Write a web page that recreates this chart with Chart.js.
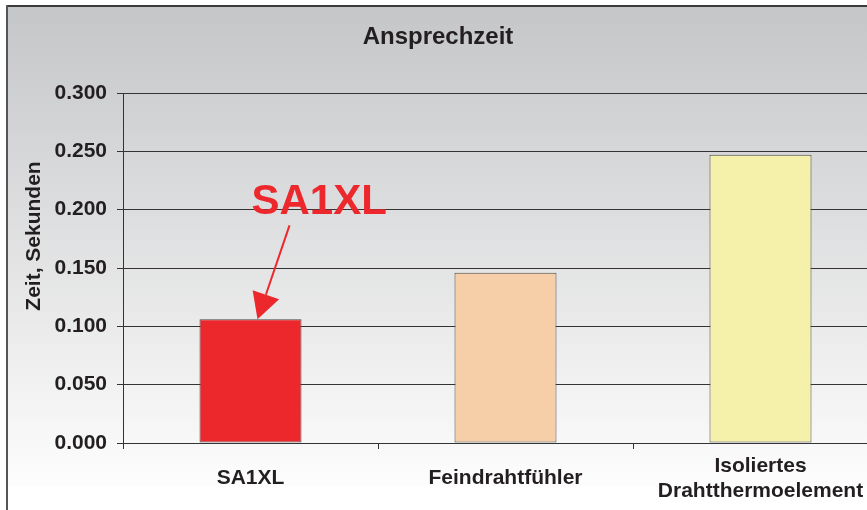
<!DOCTYPE html>
<html>
<head>
<meta charset="utf-8">
<script src="https://cdn.jsdelivr.net/npm/chart.js@4"></script>
<style>
  html, body { margin: 0; padding: 0; overflow: hidden; background: #fff; }
  #wrap { position: relative; width: 900px; height: 510px; }
</style>
</head>
<body>
<div id="wrap"><canvas id="c" width="900" height="510"></canvas></div>
<script>
const chartTitle = 'Ansprechzeit';
const yAxisTitle = 'Zeit, Sekunden';
const categories = ['SA1XL', 'Feindrahtfühler', ['Isoliertes', 'Drahtthermoelement']];
const values = [0.106, 0.146, 0.247];
const barColors = ['#ec282d', '#f6cfa8', '#f6f1aa'];
const yTicks = [0.000, 0.050, 0.100, 0.150, 0.200, 0.250, 0.300];
const calloutText = 'SA1XL';

const FONT = "'Liberation Sans', Arial, Helvetica, sans-serif";
const TEXT = '#231f20';

const decor = {
  id: 'decor',
  beforeDraw(chart) {
    const ctx = chart.ctx;
    const W = chart.width, H = chart.height;
    ctx.save();
    ctx.fillStyle = '#ffffff';
    ctx.fillRect(0, 0, W, H);
    const g = ctx.createLinearGradient(0, 7, 0, 487);
    g.addColorStop(0, '#c5c6c8');
    g.addColorStop(1, '#fdfdfd');
    ctx.fillStyle = g;
    ctx.fillRect(8, 7, W - 8, 480);
    ctx.fillStyle = '#3a3a3a';
    ctx.fillRect(6, 5, W - 6, 2);
    ctx.fillStyle = '#555555';
    ctx.fillRect(6, 5, 2, H - 5);
    // chart title
    ctx.fillStyle = TEXT;
    ctx.font = 'bold 24px ' + FONT;
    ctx.textAlign = 'center';
    ctx.textBaseline = 'alphabetic';
    ctx.fillText(chartTitle, 438, 44);
    // y axis title
    ctx.font = 'bold 21px ' + FONT;
    ctx.translate(40, 236);
    ctx.rotate(-Math.PI / 2);
    ctx.fillText(yAxisTitle, 0, 0);
    ctx.restore();
  },
  afterDatasetsDraw(chart) {
    const ctx = chart.ctx;
    const xs = chart.scales.x, ys = chart.scales.y;
    const tipX = xs.getPixelForValue(0) + 7;
    const tipY = ys.getPixelForValue(values[0]);
    const sx = tipX + 32, sy = tipY - 94;
    const ang = Math.atan2(tipY - sy, tipX - sx);
    const headLen = 26, headHalf = 14;
    const bx = tipX - headLen * Math.cos(ang), by = tipY - headLen * Math.sin(ang);
    ctx.save();
    ctx.strokeStyle = '#ec282d';
    ctx.fillStyle = '#ec282d';
    ctx.lineWidth = 2;
    ctx.beginPath();
    ctx.moveTo(sx, sy);
    ctx.lineTo(bx, by);
    ctx.stroke();
    ctx.beginPath();
    ctx.moveTo(tipX, tipY);
    ctx.lineTo(bx + headHalf * Math.sin(ang), by - headHalf * Math.cos(ang));
    ctx.lineTo(bx - headHalf * Math.sin(ang), by + headHalf * Math.cos(ang));
    ctx.closePath();
    ctx.fill();
    ctx.font = 'bold 42px ' + FONT;
    ctx.textAlign = 'left';
    ctx.textBaseline = 'alphabetic';
    ctx.fillText(calloutText, tipX - 6, tipY - 105);
    ctx.restore();
  }
};

new Chart(document.getElementById('c'), {
  type: 'bar',
  data: {
    labels: categories,
    datasets: [{
      data: values,
      backgroundColor: barColors,
      borderColor: '#4a4a4a',
      borderWidth: 1,
      borderSkipped: false,
      barPercentage: 0.4,
      categoryPercentage: 1.0
    }]
  },
  options: {
    responsive: false,
    animation: false,
    devicePixelRatio: 1,
    layout: { padding: { left: 0, top: 93, right: 12, bottom: 0 } },
    plugins: {
      legend: { display: false },
      title: { display: false },
      tooltip: { enabled: false }
    },
    scales: {
      x: {
        grid: { offset: true, drawOnChartArea: false, drawTicks: true, tickLength: 6, color: '#333333', lineWidth: 1 },
        border: { display: true, color: '#333333', width: 1 },
        ticks: {
          color: TEXT,
          font: { family: FONT, size: 21, weight: 'bold' },
          padding: 17,
          maxRotation: 0,
          autoSkip: false,
          crossAlign: 'center'
        },
        afterFit(s) { s.height = 67; }
      },
      y: {
        min: 0,
        max: 0.3,
        afterBuildTicks(s) { s.ticks = yTicks.map(v => ({ value: v })); },
        grid: { color: '#333333', lineWidth: 1, drawTicks: true, tickLength: 6 },
        border: { display: true, color: '#333333', width: 1 },
        ticks: {
          color: TEXT,
          font: { family: FONT, size: 21, weight: 'bold' },
          padding: 10,
          callback: v => Number(v).toFixed(3)
        },
        afterFit(s) { s.width = 123; }
      }
    }
  },
  plugins: [decor]
});
</script>
</body>
</html>
